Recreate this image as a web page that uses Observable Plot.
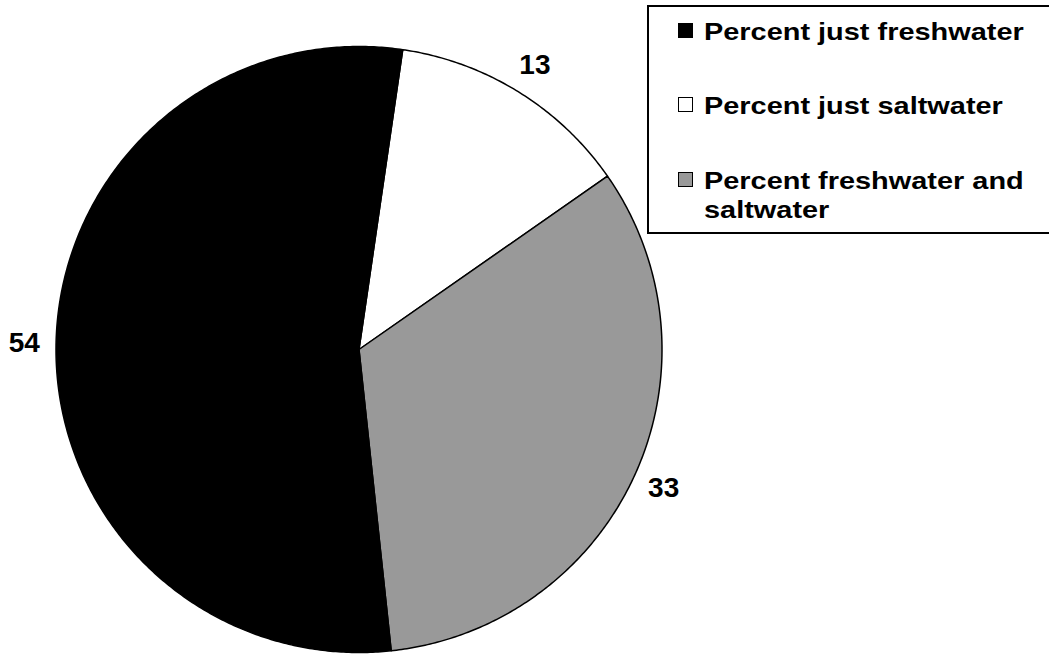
<!DOCTYPE html>
<html>
<head>
<meta charset="utf-8">
<script src="https://cdn.jsdelivr.net/npm/d3@7"></script>
<script src="https://cdn.jsdelivr.net/npm/@observablehq/plot@0.6"></script>
<style>
  html, body { margin: 0; padding: 0; background: #fff; }
  #wrap { position: relative; width: 1049px; height: 654px; overflow: hidden; font-family: "Liberation Sans", Arial, sans-serif; }
  #wrap svg { position: absolute; left: 0; top: 0; }
  .legend { position: absolute; left: 647px; top: 5px; width: 410px; height: 229px; border: 2px solid #000; box-sizing: border-box; background: #fff; }
  .sw { position: absolute; width: 15px; height: 15px; box-sizing: border-box; border: 1.5px solid #000; }
  .lt { position: absolute; font-weight: bold; font-size: 24.5px; letter-spacing: 0; line-height: 29px; white-space: nowrap; color: #000; transform: scaleX(1.18); transform-origin: 0 0; }
</style>
</head>
<body>
<div id="wrap"></div>
<script>
// Data
const categories = ["Percent just saltwater", "Percent freshwater and saltwater", "Percent just freshwater"];
const values = [13, 33, 54];
const colors = ["#ffffff", "#999999", "#000000"];
const legendOrder = ["Percent just freshwater", "Percent just saltwater", "Percent freshwater and saltwater"];
const labels = ["13", "33", "54"];

const W = 1049, H = 654;
const cx = 358.5, cy = 349, R = 303;
const startDeg = 8.3;

const pie = d3.pie().sort(null).value(d => d.value)
  .startAngle(startDeg * Math.PI / 180)
  .endAngle((startDeg + 360) * Math.PI / 180);
const arcs = pie(categories.map((c, i) => ({name: c, value: values[i], color: colors[i], label: labels[i]})));

// polygons in unit space (angle measured clockwise from top)
function slicePoints(a) {
  const pts = [{x: 0, y: 0}];
  const n = Math.max(2, Math.ceil((a.endAngle - a.startAngle) / (Math.PI / 360)));
  for (let k = 0; k <= n; k++) {
    const t = a.startAngle + (a.endAngle - a.startAngle) * k / n;
    pts.push({x: Math.sin(t), y: Math.cos(t)});
  }
  pts.push({x: 0, y: 0});
  return pts;
}
const labelR = 1.105;
const labelData = arcs.map(a => {
  const m = (a.startAngle + a.endAngle) / 2;
  return {x: labelR * Math.sin(m), y: labelR * Math.cos(m), text: a.data.label};
});

const chart = Plot.plot({
  width: W, height: H,
  margin: 0,
  x: {domain: [-cx / R, (W - cx) / R], range: [0, W], axis: null},
  y: {domain: [-(H - cy) / R, cy / R], range: [H, 0], axis: null},
  marks: [
    ...arcs.map(a => Plot.line(slicePoints(a), {x: "x", y: "y", fill: a.data.color, stroke: "#000", strokeWidth: 1.5, strokeLinejoin: "round"})),
    Plot.text(labelData, {x: "x", y: "y", text: "text", fontSize: 28, fontWeight: "bold", fill: "#000", textAnchor: "middle", fontFamily: "Liberation Sans, Arial, sans-serif"})
  ]
});
const wrap = document.getElementById("wrap");
wrap.appendChild(chart);

// Legend
const legend = document.createElement("div");
legend.className = "legend";
const colorOf = Object.fromEntries(categories.map((c, i) => [c, colors[i]]));
const rowTops = [10, 84, 159]; // relative to legend box
legendOrder.forEach((name, i) => {
  const sw = document.createElement("div");
  sw.className = "sw";
  sw.style.left = "29px";
  sw.style.top = (rowTops[i] + 6) + "px";
  sw.style.background = colorOf[name];
  legend.appendChild(sw);
  const t = document.createElement("div");
  t.className = "lt";
  t.style.left = "55px";
  t.style.top = rowTops[i] + "px";
  t.innerHTML = name === "Percent freshwater and saltwater" ? "Percent freshwater and<br>saltwater" : name;
  legend.appendChild(t);
});
wrap.appendChild(legend);
</script>
</body>
</html>
